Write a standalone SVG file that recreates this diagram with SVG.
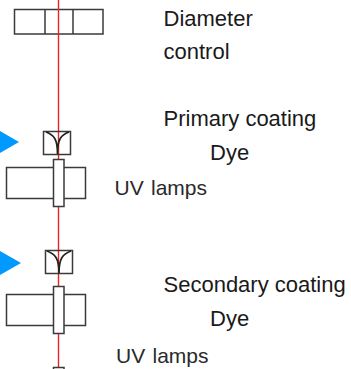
<svg xmlns="http://www.w3.org/2000/svg" width="351" height="369" viewBox="0 0 351 369">
<style>
.b{fill:#fff;stroke:#3a3a3a;stroke-width:1.5}
.o{fill:none;stroke:#3a3a3a;stroke-width:1.5}
.t{font-family:"Liberation Sans",Arial,sans-serif;font-size:22px;fill:#1a1a1a}
.u{font-size:21px;fill:#2a2a2a;word-spacing:1.5px}
.a{fill:#0099ff}
.f{fill:none;stroke:#222;stroke-width:1.7}
</style>
<rect width="351" height="369" fill="#fff"/>
<g id="diameter-control">
<rect class="b" x="14.500" y="9.500" width="88.500" height="24.500"/>
<path class="o" d="M45 9.500V34M73 9.500V34"/>
</g>
<g id="connectors">
<path d="M58.500 0V369" fill="none" stroke="#ee2222" stroke-width="1.4"/>
</g>
<g id="coater-1">
<rect class="o" x="43.500" y="131.500" width="27" height="23"/>
<path class="f" d="M46 132C54 135 57.500 139 57.500 154M69 132C61 135 57.500 139 57.500 154"/>
<path class="a" d="M0 131L19 142L0 153Z"/>
</g>
<g id="lamp-1">
<rect class="b" x="6.500" y="167.500" width="79" height="31"/>
<rect class="b" x="53.500" y="159.500" width="10.500" height="47"/>
</g>
<g id="coater-2">
<rect class="o" x="45.500" y="250.500" width="27" height="23"/>
<path class="f" d="M47 251C55 254 59 258 59 273M71 251C63 254 59 258 59 273"/>
<path class="a" d="M0 251L21 263L0 275Z"/>
</g>
<g id="lamp-2">
<rect class="b" x="6.500" y="294.500" width="79" height="31"/>
<rect class="b" x="53.500" y="286.500" width="10.500" height="47"/>
</g>
<g id="lamp-3">
<rect class="b" x="53.500" y="367.500" width="10.500" height="6"/>
</g>
<g id="labels">
<text class="t" x="163.500" y="26">Diameter</text>
<text class="t" x="163.500" y="59">control</text>
<text class="t" x="163.500" y="126">Primary coating</text>
<text class="t" x="210" y="160">Dye</text>
<text class="t u" x="114.500" y="195">UV lamps</text>
<text class="t" x="163.500" y="292">Secondary coating</text>
<text class="t" x="210" y="326">Dye</text>
<text class="t u" x="116" y="363">UV lamps</text>
</g>
</svg>
